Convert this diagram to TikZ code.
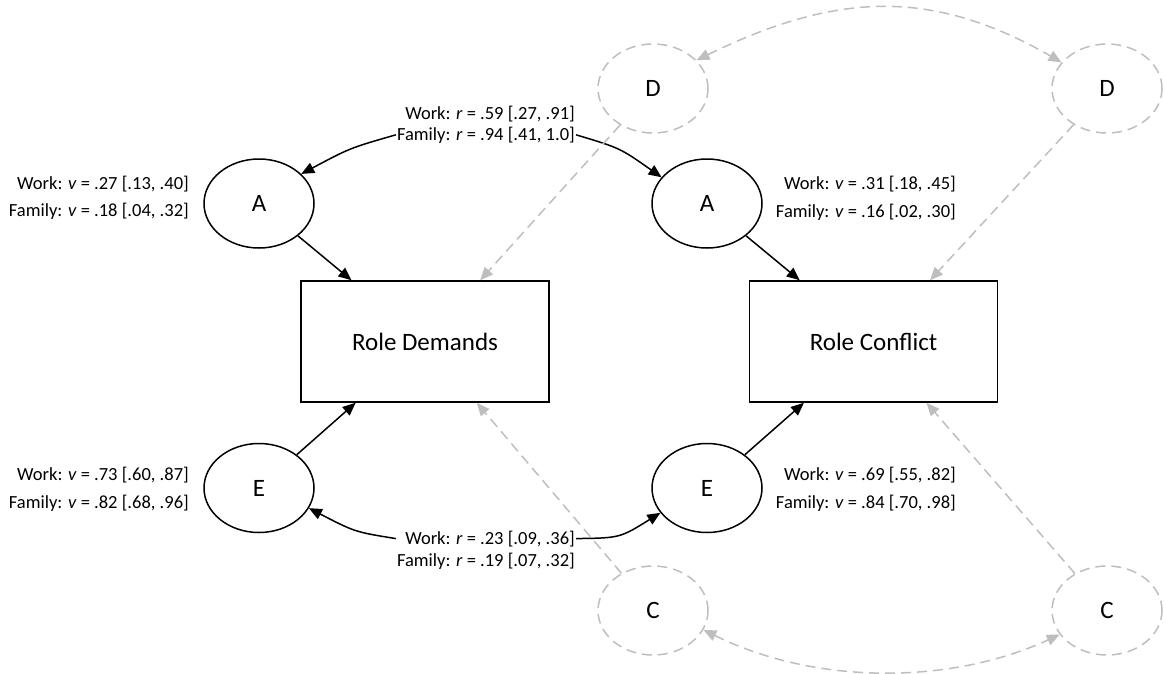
\documentclass[tikz,border=0pt]{standalone}
\usepackage{fontspec}
\setmainfont{Carlito}
\usetikzlibrary{arrows.meta,shapes.geometric}
\definecolor{dgray}{RGB}{190,190,190}
\begin{document}
\begin{tikzpicture}[x=1pt,y=-1pt,
  lat/.style={ellipse,draw,line width=1.5pt,minimum width=110pt,minimum height=89pt,inner sep=0pt,font=\fontsize{25}{29}\selectfont},
  glat/.style={lat,draw=dgray,dash pattern=on 10pt off 6pt},
  box/.style={rectangle,draw,line width=1.5pt,minimum width=248pt,minimum height=121pt,font=\fontsize{25}{29}\selectfont},
  lbl/.style={inner sep=1pt,font=\fontsize{18.5}{22}\selectfont,anchor=base east},
  arr/.style={line width=1.5pt,-{Triangle[length=13pt,width=11pt]}},
  garr/.style={line width=1.5pt,draw=dgray,dash pattern=on 10pt off 6pt,-{Triangle[length=13pt,width=11pt,fill=dgray]}},
  gdarr/.style={line width=1.5pt,draw=dgray,dash pattern=on 10pt off 6pt,{Triangle[length=13pt,width=11pt,fill=dgray]}-{Triangle[length=13pt,width=11pt,fill=dgray]}}
]
\useasboundingbox (0,0) rectangle (1165,673);

% boxes
\node[box] (RD) at (425,341.5) {Role Demands};
\node[box] (RC) at (873.5,341.5) {Role Conflict};

% latent variables
\node[lat] (A1) at (259,203.5) {A};
\node[lat] (E1) at (259,488) {E};
\node[lat] (A2) at (707,203.5) {A};
\node[lat] (E2) at (707,488) {E};
\node[glat] (D1) at (653,88.5) {D};
\node[glat] (D2) at (1107,88.5) {D};
\node[glat] (C1) at (653,610.5) {C};
\node[glat] (C2) at (1107,610.5) {C};

% variance labels
\node[lbl] (la1w) at (190,189) {Work: \textit{v} = .27 [.13, .40]};
\node[lbl] (la1f) at (190,216) {Family: \textit{v} = .18 [.04, .32]};
\node[lbl] (le1w) at (190,480) {Work: \textit{v} = .73 [.60, .87]};
\node[lbl] (le1f) at (190,508) {Family: \textit{v} = .82 [.68, .96]};
\node[lbl] (la2w) at (957,189) {Work: \textit{v} = .31 [.18, .45]};
\node[lbl] (la2f) at (957,217) {Family: \textit{v} = .16 [.02, .30]};
\node[lbl] (le2w) at (957,480) {Work: \textit{v} = .69 [.55, .82]};
\node[lbl] (le2f) at (957,508) {Family: \textit{v} = .84 [.70, .98]};

% correlation labels
\node[lbl] (rtw) at (576,119) {Work: \textit{r} = .59 [.27, .91]};
\node[lbl] (rtf) at (576,140) {Family: \textit{r} = .94 [.41, 1.0]};
\node[lbl] (rbw) at (576,544) {Work: \textit{r} = .23 [.09, .36]};
\node[lbl] (rbf) at (576,566) {Family: \textit{r} = .19 [.07, .32]};

% paths
\draw[arr] (A1) -- (RD);
\draw[arr] (E1) -- (RD);
\draw[arr] (A2) -- (RC);
\draw[arr] (E2) -- (RC);

% correlations (double-headed, split by label)
\draw[arr] (rtf.west) .. controls (350,148) .. (A1.35);
\draw[arr] (rtf.east) .. controls (620,148) .. (A2.150);
\draw[arr] (rbf.west |- rbw) .. controls (355,532) .. (E1.-22);
\draw[arr] (rbw.east) .. controls (620,538) .. (E2.-152);

% gray dashed
\draw[garr] (D1) -- (RD);
\draw[garr] (D2) -- (RC);
\draw[garr] (C1) -- (RD);
\draw[garr] (C2) -- (RC);
\draw[gdarr] (D1.33) .. controls (840,-10) and (935,-10) .. (D2.150);
\draw[gdarr] (C1.-21) .. controls (815,685) and (950,685) .. (C2.207);
\end{tikzpicture}
\end{document}
